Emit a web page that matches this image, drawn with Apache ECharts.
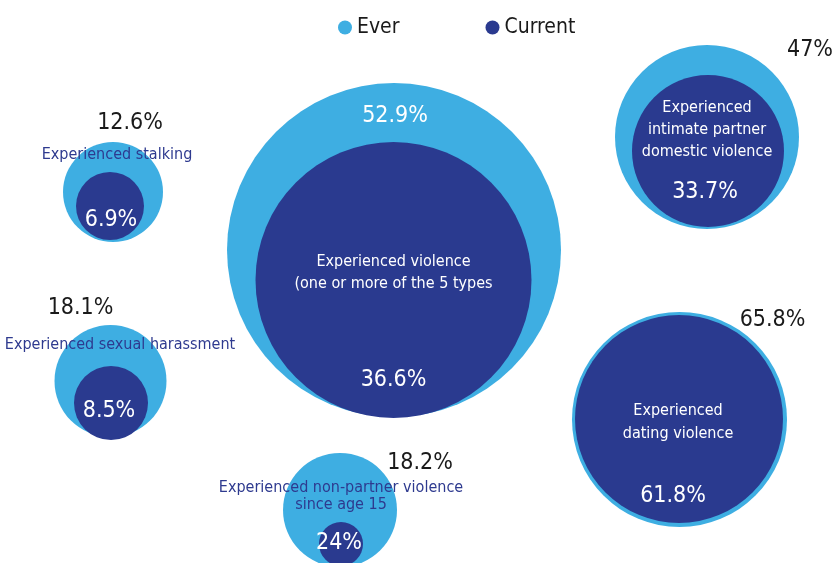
<!DOCTYPE html>
<html>
<head>
<meta charset="utf-8">
<script src="https://cdn.jsdelivr.net/npm/echarts@6/dist/echarts.min.js"></script>
<style>
html,body{margin:0;padding:0;background:#fff;}
#chart{width:837px;height:563px;}
</style>
</head>
<body>
<div id="chart"></div>
<script>
// ---- data ----
const categories = [
  'Experienced stalking',
  'Experienced sexual harassment',
  'Experienced violence\n(one or more of the 5 types',
  'Experienced non-partner violence\nsince age 15',
  'Experienced intimate partner\ndomestic violence',
  'Experienced dating violence'
];
const everValues = [12.6, 18.1, 52.9, 18.2, 47, 65.8];
const currentValues = [6.9, 8.5, 36.6, 24, 33.7, 61.8];
const seriesNames = ['Ever', 'Current'];

// ---- layout (pixel space of the full canvas) ----
const everCenter = [[113,192],[110.5,381],[394,250],[340,510],[707,137],[679.5,419.5]];
const everRadius = [50, 56, 167, 57, 92, 107.5];
const currentCenter = [[110,206],[111,403],[393.5,280],[341,544],[708,151],[679,419]];
const currentRadius = [34, 37, 138, 22, 76, 104];
const everLabelOffset = [[17,-69],[-30,-73],[1,-134],[80,-47],[103,-87],[93,-99]];
const everLabelColor = ['#1a1a1a','#1a1a1a','#ffffff','#1a1a1a','#1a1a1a','#1a1a1a'];
const currentLabelOffset = [[1,14],[-2,8],[0,100],[-2,-1],[-3,41],[-6,77]];
const nameLabelText = [
  'Experienced stalking',
  'Experienced sexual harassment',
  'Experienced violence\n(one or more of the 5 types',
  'Experienced non-partner violence\nsince age 15',
  'Experienced\nintimate partner\ndomestic violence',
  'Experienced\ndating violence'
];
const nameLabelOffset = [[7,-51],[9,-58],[0,-7],[0,-48],[-1,-21],[-1,3]];
const nameLabelColor = ['#2e3a8f','#2e3a8f','#ffffff','#2e3a8f','#ffffff','#ffffff'];
const nameLineHeight = [18, 18, 22, 17, 22, 23];

const LIGHT = '#3eaee2';
const DARK = '#2a3a8f';
const FONT = '"Liberation Sans Narrow", "DejaVu Sans Condensed", "Liberation Sans", sans-serif';

const fmtPct = v => (Math.round(v * 10) / 10) + '%';

const everData = everValues.map((v, i) => ({
  name: categories[i],
  value: [everCenter[i][0], everCenter[i][1], v],
  symbolSize: everRadius[i] * 2,
  label: { offset: everLabelOffset[i], color: everLabelColor[i] }
}));
const currentData = currentValues.map((v, i) => ({
  name: categories[i],
  value: [currentCenter[i][0], currentCenter[i][1], v],
  symbolSize: currentRadius[i] * 2,
  label: { offset: currentLabelOffset[i] }
}));
const nameData = categories.map((c, i) => ({
  name: c,
  value: [currentCenter[i][0], currentCenter[i][1]],
  label: { offset: nameLabelOffset[i], color: nameLabelColor[i], lineHeight: nameLineHeight[i], formatter: nameLabelText[i] }
}));

const chart = echarts.init(document.getElementById('chart'), null, { renderer: 'canvas' });
chart.setOption({
  animation: false,
  backgroundColor: '#ffffff',
  textStyle: { fontFamily: FONT },
  legend: {
    data: seriesNames,
    icon: 'circle',
    itemWidth: 14,
    itemHeight: 14,
    itemGap: 86,
    left: 333,
    top: 12,
    textStyle: { fontSize: 21, color: '#1a1a1a', fontFamily: FONT }
  },
  grid: { left: 0, right: 0, top: 0, bottom: 0 },
  xAxis: { type: 'value', min: 0, max: 837, show: false },
  yAxis: { type: 'value', min: 0, max: 563, inverse: true, show: false },
  series: [
    {
      name: seriesNames[0],
      type: 'scatter',
      symbol: 'circle',
      itemStyle: { color: LIGHT, opacity: 1 },
      z: 1,
      label: {
        show: true, position: 'inside', fontSize: 23, fontFamily: FONT,
        formatter: p => fmtPct(p.value[2])
      },
      data: everData
    },
    {
      name: seriesNames[1],
      type: 'scatter',
      symbol: 'circle',
      itemStyle: { color: DARK, opacity: 1 },
      z: 2,
      label: {
        show: true, position: 'inside', fontSize: 23, color: '#ffffff', fontFamily: FONT,
        formatter: p => fmtPct(p.value[2])
      },
      data: currentData
    },
    {
      name: 'labels',
      type: 'scatter',
      symbolSize: 0,
      z: 3,
      silent: true,
      itemStyle: { opacity: 1, color: DARK },
      label: {
        show: true, position: 'inside', fontSize: 16, fontFamily: FONT, align: 'center', opacity: 1
      },
      data: nameData
    }
  ]
});
</script>
</body>
</html>
